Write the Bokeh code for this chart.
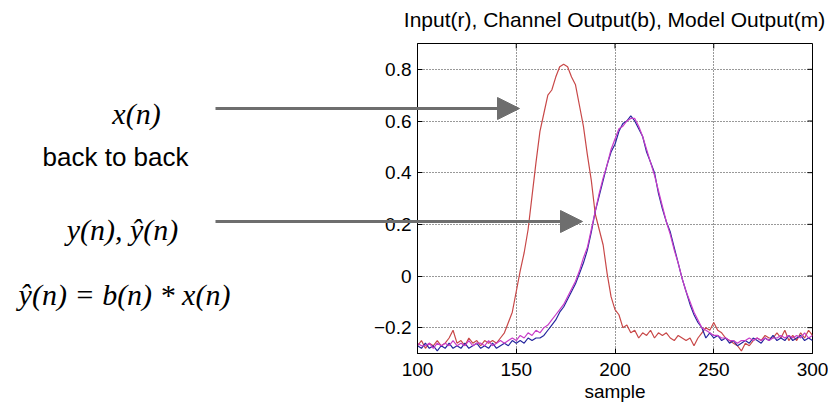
from bokeh.plotting import figure
from bokeh.layouts import column
from bokeh.models import (Range1d, FixedTicker, Label, Arrow, NormalHead,
                          CustomJSTickFormatter, ColumnDataSource)
from bokeh.embed import file_html
from bokeh.resources import INLINE

# ---------------- data ----------------
samples = list(range(100, 301, 2))

input_r = [-0.27, -0.25, -0.28, -0.26, -0.27, -0.25, -0.27, -0.26, -0.24, -0.21,
           -0.26, -0.25, -0.27, -0.24, -0.26, -0.25, -0.27, -0.25, -0.26, -0.25,
           -0.26, -0.24, -0.22, -0.18, -0.14, -0.06, 0.02, 0.09, 0.18, 0.31,
           0.44, 0.56, 0.63, 0.70, 0.72, 0.77, 0.81, 0.82, 0.81, 0.77,
           0.74, 0.66, 0.58, 0.47, 0.37, 0.24, 0.18, 0.12, 0.01, -0.08,
           -0.13, -0.15, -0.20, -0.19, -0.22, -0.21, -0.24, -0.22, -0.23, -0.21,
           -0.24, -0.22, -0.23, -0.22, -0.24, -0.25, -0.23, -0.24, -0.25, -0.24,
           -0.27, -0.24, -0.22, -0.20, -0.21, -0.18, -0.21, -0.22, -0.24, -0.25,
           -0.26, -0.27, -0.29, -0.26, -0.27, -0.25, -0.24, -0.25, -0.23, -0.24,
           -0.24, -0.22, -0.24, -0.21, -0.25, -0.23, -0.25, -0.22, -0.24, -0.21,
           -0.23]

channel_b = [-0.27, -0.28, -0.26, -0.28, -0.27, -0.29, -0.27, -0.28, -0.26, -0.28,
             -0.27, -0.28, -0.26, -0.28, -0.27, -0.26, -0.28, -0.27, -0.28, -0.26,
             -0.28, -0.27, -0.26, -0.27, -0.25, -0.26, -0.25, -0.26, -0.24, -0.25,
             -0.24, -0.24, -0.23, -0.21, -0.19, -0.17, -0.14, -0.12, -0.09, -0.06,
             -0.03, 0.01, 0.05, 0.10, 0.17, 0.25, 0.31, 0.37, 0.43, 0.48,
             0.51, 0.56, 0.59, 0.60, 0.62, 0.60, 0.57, 0.54, 0.48, 0.44,
             0.40, 0.32, 0.26, 0.21, 0.17, 0.11, 0.05, -0.01, -0.06, -0.11,
             -0.15, -0.18, -0.20, -0.24, -0.22, -0.24, -0.23, -0.25, -0.24, -0.26,
             -0.25, -0.27, -0.26, -0.25, -0.26, -0.24, -0.25, -0.26, -0.24, -0.25,
             -0.23, -0.25, -0.24, -0.25, -0.23, -0.25, -0.24, -0.23, -0.25, -0.24,
             -0.25]

model_m = [-0.26, -0.27, -0.27, -0.26, -0.28, -0.26, -0.27, -0.26, -0.27, -0.25,
           -0.27, -0.26, -0.27, -0.25, -0.27, -0.26, -0.26, -0.27, -0.25, -0.27,
           -0.26, -0.25, -0.26, -0.25, -0.24, -0.25, -0.23, -0.24, -0.22, -0.23,
           -0.21, -0.22, -0.20, -0.19, -0.17, -0.15, -0.13, -0.11, -0.08, -0.05,
           -0.02, 0.02, 0.07, 0.11, 0.18, 0.25, 0.32, 0.38, 0.43, 0.49,
           0.53, 0.57, 0.58, 0.60, 0.61, 0.61, 0.58, 0.54, 0.49, 0.44,
           0.39, 0.33, 0.27, 0.21, 0.16, 0.10, 0.05, -0.01, -0.06, -0.10,
           -0.14, -0.17, -0.20, -0.21, -0.22, -0.23, -0.23, -0.24, -0.24, -0.25,
           -0.25, -0.26, -0.25, -0.25, -0.24, -0.25, -0.24, -0.25, -0.24, -0.25,
           -0.24, -0.24, -0.23, -0.24, -0.23, -0.24, -0.23, -0.24, -0.22, -0.24,
           -0.23]

x_ticks = [100, 150, 200, 250, 300]
y_ticks = [-0.2, 0, 0.2, 0.4, 0.6, 0.8]
title_text = "Input(r), Channel Output(b), Model Output(m)"
x_label = "sample"

SANS = "Liberation Sans"
SERIF = "Liberation Serif"

X0, X1, Y0, Y1 = 100, 300, -0.3, 0.9

# ---------------- chart ----------------
p = figure(width=828, height=410, output_backend="svg", toolbar_location=None,
           x_range=Range1d(X0, X1), y_range=Range1d(Y0, Y1),
           min_border_left=417, min_border_right=16, min_border_top=43, min_border_bottom=57)
p.frame_align = False

p.outline_line_color = "black"
p.outline_line_width = 1
p.background_fill_color = "white"
p.border_fill_color = "white"

src = ColumnDataSource(dict(s=samples, r=input_r, b=channel_b, m=model_m))
p.line("s", "r", source=src, line_color="#c84848", line_width=1.2)
p.line("s", "b", source=src, line_color="#26269e", line_width=1.2)
p.line("s", "m", source=src, line_color="#c83cc8", line_width=1.2)

fmt = CustomJSTickFormatter(code="""
if (Math.abs(tick) < 1e-9) { return "0"; }
if (tick < 0) { return "\\u2212" + Math.abs(tick).toFixed(1); }
return tick.toFixed(1);
""")

xa = p.xaxis[0]
xa.ticker = FixedTicker(ticks=x_ticks)
ya = p.yaxis[0]
ya.ticker = FixedTicker(ticks=y_ticks)
ya.formatter = fmt
for ax in (xa, ya):
    ax.major_tick_in = 5
    ax.major_tick_out = 0
    ax.minor_tick_line_color = None
    ax.axis_line_color = "black"
    ax.major_tick_line_color = "black"
    ax.major_label_text_font = SANS
    ax.major_label_text_font_size = "19px"
    ax.major_label_text_color = "black"
xa.major_label_standoff = 9
ya.major_label_standoff = 6
xa.axis_label = x_label
xa.axis_label_text_font = SANS
xa.axis_label_text_font_style = "normal"
xa.axis_label_text_font_size = "19px"
xa.axis_label_text_color = "black"
xa.axis_label_standoff = 2

# inward tick marks on the top and right edges of the box (MATLAB style)
tick_dy = (Y1 - Y0) * 5 / 310
tick_dx = (X1 - X0) * 5 / 394
p.segment(x0=x_ticks, y0=[Y1] * len(x_ticks), x1=x_ticks, y1=[Y1 - tick_dy] * len(x_ticks),
          line_color="black", line_width=1)
p.segment(x0=[X1] * len(y_ticks), y0=y_ticks, x1=[X1 - tick_dx] * len(y_ticks), y1=y_ticks,
          line_color="black", line_width=1)

p.grid.grid_line_color = "#333333"
p.grid.grid_line_dash = "1 2"
p.grid.grid_line_width = 1
p.xgrid.ticker = FixedTicker(ticks=x_ticks)
p.ygrid.ticker = FixedTicker(ticks=y_ticks)

# ---------------- overlay (pixel coordinates) for title, equations, arrows ----------------
ov = figure(width=828, height=410, output_backend="svg", toolbar_location=None,
            x_range=Range1d(0, 828), y_range=Range1d(410, 0),
            x_axis_location=None, y_axis_location=None, min_border=0,
            background_fill_color=None, border_fill_color=None, outline_line_color=None)
ov.frame_align = False
ov.margin = (-410, 0, 0, 0)
ov.xgrid.visible = False
ov.ygrid.visible = False
ov.grid.grid_line_color = None


def lab(text, x, y, font, size, style="normal"):
    ov.add_layout(Label(x=x, y=y, text=text,
                        text_font=font, text_font_size=size, text_font_style=style,
                        text_align="center", text_baseline="middle", text_color="black"))


lab(title_text, 614, 19, SANS, "21px")
lab("x(n)", 136, 113, SERIF, "30px", "italic")
lab("back to back", 115, 156, SANS, "26px")
lab("y(n), ŷ(n)", 122, 229, SERIF, "30px", "italic")
lab("ŷ(n) = b(n) * x(n)", 124, 294, SERIF, "30px", "italic")

for (xs, ys, xe, ye) in [(215, 108, 519, 108), (215, 221, 582, 221)]:
    ov.add_layout(Arrow(x_start=xs, y_start=ys, x_end=xe, y_end=ye,
                        line_color="#6e6e6e", line_width=3,
                        end=NormalHead(size=22, fill_color="#6e6e6e", line_color="#6e6e6e")))

layout = column(p, ov, spacing=0)
open("out.html", "w").write(file_html(layout, INLINE))
